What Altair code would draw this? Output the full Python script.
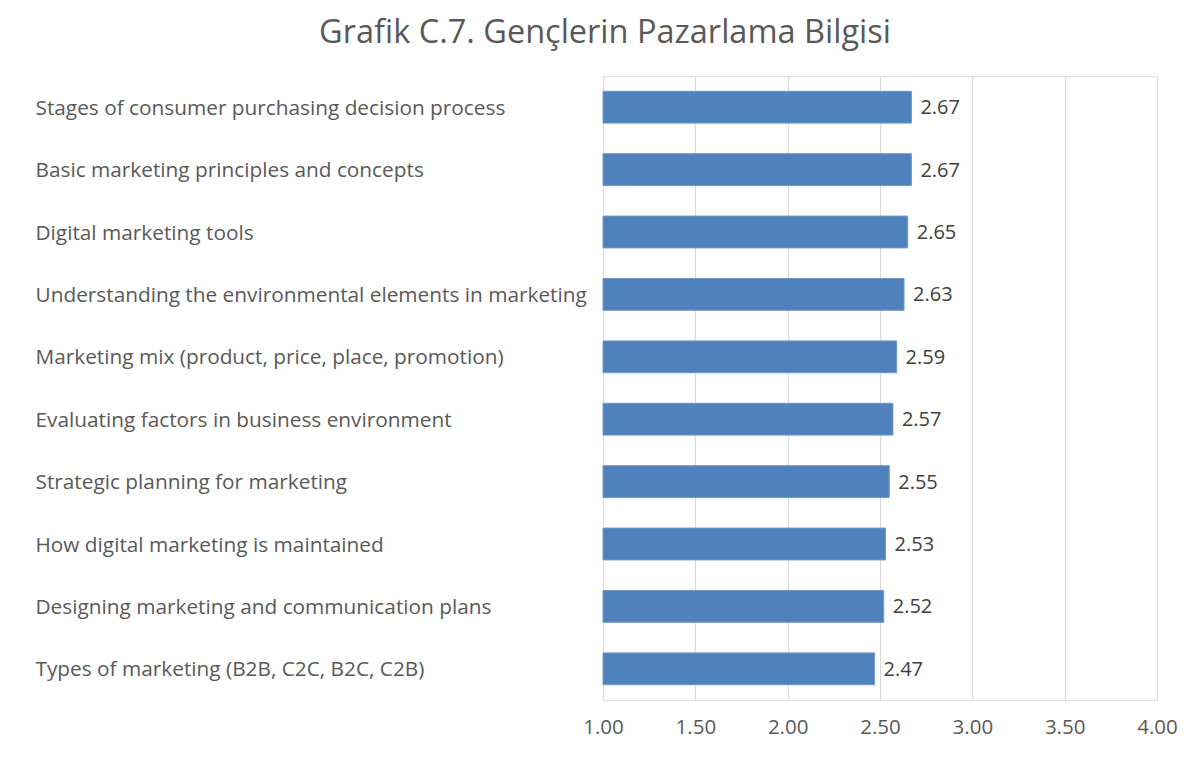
import altair as alt
import pandas as pd

categories = [
    "Stages of consumer purchasing decision process",
    "Basic marketing principles and concepts",
    "Digital marketing tools",
    "Understanding the environmental elements in marketing",
    "Marketing mix (product, price, place, promotion)",
    "Evaluating factors in business environment",
    "Strategic planning for marketing",
    "How digital marketing is maintained",
    "Designing marketing and communication plans",
    "Types of marketing (B2B, C2C, B2C, C2B)",
]
values = [2.67, 2.67, 2.65, 2.63, 2.59, 2.57, 2.55, 2.53, 2.52, 2.47]
tick_values = [1.0, 1.5, 2.0, 2.5, 3.0, 3.5, 4.0]
title = "Grafik C.7. Gençlerin Pazarlama Bilgisi"

df = pd.DataFrame({"cat": categories, "val": values})

FONT = "Open Sans"

x = alt.X(
    "val:Q",
    scale=alt.Scale(domain=[1, 4], nice=False, zero=False),
    axis=alt.Axis(
        values=tick_values, format=".2f", title=None, domain=False, ticks=False,
        grid=True, gridColor="#d9d9d9", gridWidth=1, labelFlush=False,
        labelFont=FONT, labelFontSize=20.5, labelColor="#595959", labelPadding=17,
    ),
)
y = alt.Y(
    "cat:N", sort=categories, title=None,
    scale=alt.Scale(paddingInner=0.49, paddingOuter=0.245),
    axis=alt.Axis(
        domain=False, ticks=False, labelAlign="left", labelPadding=568,
        labelLimit=600, labelFont=FONT, labelFontSize=20.8, labelColor="#595959",
        labelOffset=1.5,
    ),
)

bars = alt.Chart(df).mark_bar(color="#4F81BD", stroke="#6f97c9", strokeWidth=1).encode(
    x=x, x2=alt.datum(1), y=y
)
labels = alt.Chart(df).mark_text(
    align="left", baseline="middle", dx=9, dy=1, font=FONT, fontSize=20, color="#404040"
).encode(
    x=alt.X("val:Q", scale=alt.Scale(domain=[1, 4], nice=False, zero=False)),
    y=alt.Y("cat:N", sort=categories),
    text=alt.Text("val:Q", format=".2f"),
)

chart = (
    alt.layer(bars, labels)
    .properties(
        width=554, height=624,
        title=alt.TitleParams(
            title, font=FONT, fontSize=32.5, fontWeight="normal", color="#595959",
            anchor="middle", frame="group", dx=-275, offset=27,
        ),
        autosize=alt.AutoSizeParams(type="none"),
        padding={"left": 595, "top": 68, "right": 35, "bottom": 59},
    )
    .configure_view(stroke=None)
    .configure(background="white")
)

chart.save("out.html", embed_options={"renderer": "svg", "actions": False})
